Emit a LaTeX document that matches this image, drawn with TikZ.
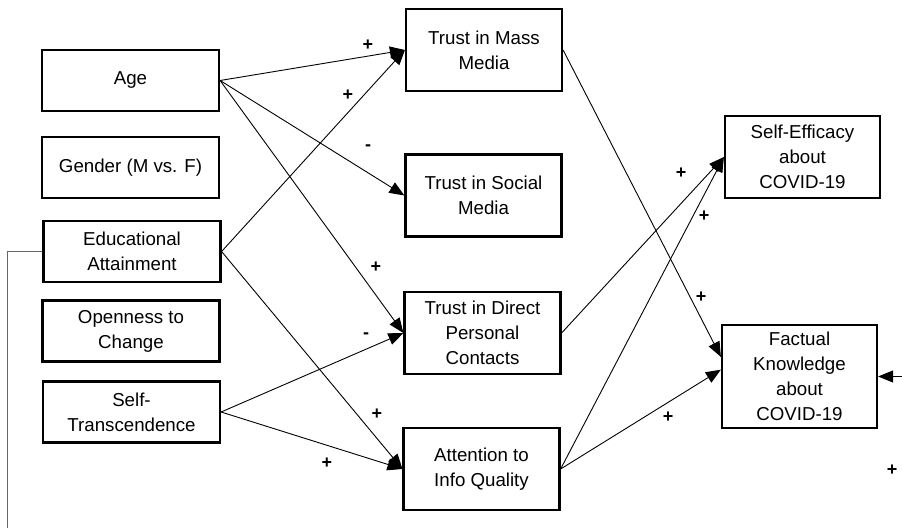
\documentclass[tikz,border=0pt]{standalone}
\usepackage{fontspec}
\setmainfont{Liberation Sans}
\usetikzlibrary{arrows.meta}
\begin{document}
\begin{tikzpicture}[x=1pt,y=-1pt,
  box/.style={draw, line width=2.2pt, inner sep=0pt, align=center,
    font=\fontsize{18.7}{25}\selectfont},
  lbox/.style={box, minimum width=177pt, minimum height=61pt},
  mbox/.style={box, minimum width=156pt, minimum height=82pt},
  arr/.style={line width=0.9pt, -{Triangle[length=15pt,width=12pt]}},
  sgn/.style={font=\fontsize{18}{18}\selectfont\bfseries, inner sep=0pt}]
\useasboundingbox (0,0) rectangle (902,528);
% left column
\node[lbox] (age) at (130.5,80.5) {Age};
\node[lbox] (gen) at (130.5,167.5) {Gender (M vs. F)};
\node[lbox] (edu) at (132,251.5) {Educational\\Attainment};
\node[lbox] (opn) at (131,331) {Openness to\\Change};
\node[lbox] (slf) at (131.5,412) {Self-\\Transcendence};
% middle column
\node[mbox] (tmm) at (484,50) {Trust in Mass\\Media};
\node[mbox] (tsm) at (483.5,195.5) {Trust in Social\\Media};
\node[mbox] (tdp) at (482.5,333) {Trust in Direct\\Personal\\Contacts};
\node[mbox] (aiq) at (481.5,469) {Attention to\\Info Quality};
% right column
\node[box, minimum width=155pt, minimum height=82pt] (sef) at (802.5,157) {Self-Efficacy\\about\\COVID-19};
\node[box, minimum width=155pt, minimum height=103pt] (fak) at (799.5,376.5) {Factual\\Knowledge\\about\\COVID-19};
% outside coordinates
\coordinate (lt) at (7,251.5);
\coordinate (lb) at (7,528);
\coordinate (rin) at (902,376.5);
% connectors
\draw[arr] (age.east) -- (tmm.west);
\draw[arr] (age.east) -- (tsm.west);
\draw[arr] (age.east) -- (tdp.west);
\draw[arr] (edu.east) -- (tmm.west);
\draw[arr] (edu.east) -- (aiq.west);
\draw[arr] (slf.east) -- (tdp.west);
\draw[arr] (slf.east) -- (aiq.west);
\draw[arr] (tmm.east) -- (fak.166);
\draw[arr] (tdp.east) -- (sef.west);
\draw[arr] (aiq.east) -- (sef.west);
\draw[arr] (aiq.east) -- (fak.175);
\draw[arr] (rin) -- (fak.east);
\draw[line width=0.9pt, draw=black!60] (edu.west) -- (lt) -- (lb);
% signs
\node[sgn] at (368,45) {+};
\node[sgn] at (348,95) {+};
\node[sgn] at (368,148) {-};
\node[sgn] at (376,267) {+};
\node[sgn] at (366,336) {-};
\node[sgn] at (377,414) {+};
\node[sgn] at (327,463) {+};
\node[sgn] at (681,173) {+};
\node[sgn] at (704,216) {+};
\node[sgn] at (701,297) {+};
\node[sgn] at (668,417) {+};
\node[sgn] at (892,470) {+};
\end{tikzpicture}
\end{document}
